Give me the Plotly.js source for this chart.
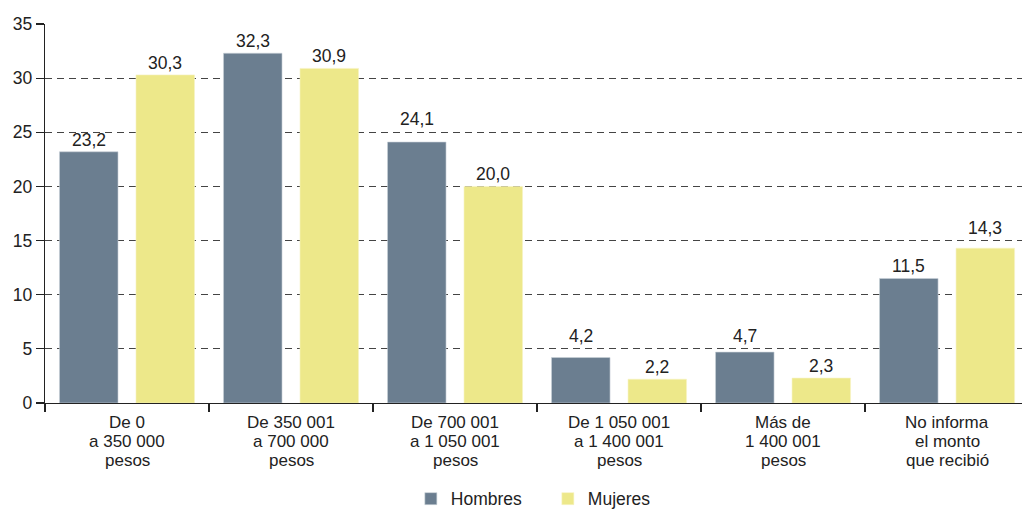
<!DOCTYPE html>
<html>
<head>
<meta charset="utf-8">
<script src="https://cdn.plot.ly/plotly-3.0.1.min.js"></script>
<style>html,body{margin:0;padding:0;background:#fff;}#chart{width:1022px;height:510px;}</style>
</head>
<body>
<div id="chart"></div>
<script>
var categories = [
  "De 0<br>a 350 000<br>pesos",
  "De 350 001<br>a 700 000<br>pesos",
  "De 700 001<br>a 1 050 001<br>pesos",
  "De 1 050 001<br>a 1 400 001<br>pesos",
  "Más de<br>1 400 001<br>pesos",
  "No informa<br>el monto<br>que recibió"
];
var hombres = [23.2, 32.3, 24.1, 4.2, 4.7, 11.5];
var mujeres = [30.3, 30.9, 20.0, 2.2, 2.3, 14.3];
var yTicks = [0, 5, 10, 15, 20, 25, 30, 35];

var FAMILY = "Liberation Sans, Arial, sans-serif";
var txtFont = {family: FAMILY, size: 17.5, color: "#222"};
var catFont = {family: FAMILY, size: 17, color: "#222"};

var W = 1022, H = 510;
var M = {l: 45, r: 0, t: 24, b: 107};
var xRange = [-0.5, 5.457];
var BARGAP = 0.067, GROUPGAP = 0.235;

var traces = [
  {type: "bar", name: "Hombres", x: categories, y: hombres,
   marker: {color: "#6b7e90", line: {color: "#c9d1d8", width: 0.6}},
   hoverinfo: "skip"},
  {type: "bar", name: "Mujeres", x: categories, y: mujeres,
   marker: {color: "#ede88a", line: {color: "#f6f3c4", width: 0.6}},
   hoverinfo: "skip"}
];

var annotations = [];

// category labels, one annotation per line
categories.forEach(function (cat) {
  cat.split("<br>").forEach(function (line, j) {
    annotations.push({
      x: cat, xref: "x", y: 0, yref: "y",
      yanchor: "middle", xanchor: "center",
      yshift: -(19 + 19 * j),
      text: line, showarrow: false, font: catFont
    });
  });
});

// value labels above each bar; lifted above a gridline when they would sit on it
var catPx = (W - M.l - M.r) / (xRange[1] - xRange[0]);
var slotPx = catPx * (1 - BARGAP) / 2;
function fmt(v) { return v.toFixed(1).replace(".", ","); }
function addLabels(vals, side) {
  vals.forEach(function (v, i) {
    var base = v, lifted = false;
    yTicks.forEach(function (g) {
      if (g > v && g - v < 1.3) { base = g; lifted = true; }
    });
    annotations.push({
      x: categories[i], xref: "x", y: base, yref: "y",
      xanchor: "center", yanchor: "bottom",
      xshift: side * slotPx / 2, yshift: lifted ? 1 : 0,
      text: fmt(v), showarrow: false, font: txtFont
    });
  });
}
addLabels(hombres, -1);
addLabels(mujeres, 1);

var layout = {
  width: W, height: H,
  margin: M,
  paper_bgcolor: "#fff", plot_bgcolor: "#fff",
  separators: ", ",
  font: txtFont,
  barmode: "group",
  bargap: BARGAP,
  bargroupgap: GROUPGAP,
  showlegend: true,
  legend: {orientation: "h", xref: "container", yref: "container",
           x: 0.402, xanchor: "left", y: 0.022, yanchor: "middle",
           entrywidth: 92, entrywidthmode: "pixels",
           font: {family: FAMILY, size: 17.5, color: "#222"}},
  annotations: annotations,
  xaxis: {
    type: "category", range: xRange, autorange: false,
    showline: true, linecolor: "#222", linewidth: 1.2,
    ticks: "outside", tickson: "boundaries", ticklen: 8, tickcolor: "#222", tickwidth: 1.2,
    showticklabels: false,
    showgrid: false, zeroline: false, fixedrange: true
  },
  yaxis: {
    range: [0, 35], autorange: false,
    tickvals: yTicks, ticktext: yTicks.map(String),
    showline: true, linecolor: "#222", linewidth: 1.2,
    ticks: "outside", ticklen: 8, tickcolor: "#222", tickwidth: 1.2,
    showgrid: true, gridcolor: "#444", gridwidth: 1, griddash: "7px,5px",
    zeroline: false, fixedrange: true,
    tickfont: txtFont
  }
};

Plotly.newPlot("chart", traces, layout, {displayModeBar: false, staticPlot: true});
</script>
</body>
</html>
